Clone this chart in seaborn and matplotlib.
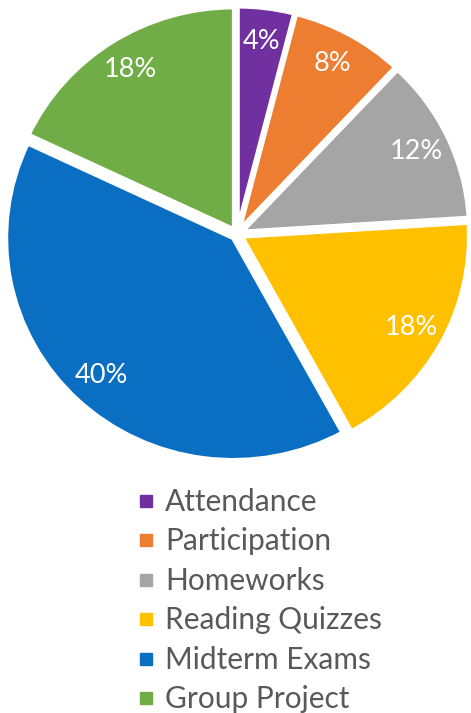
import matplotlib
matplotlib.use("Agg")
import matplotlib.pyplot as plt
import seaborn as sns
from matplotlib.lines import Line2D

categories = ["Attendance", "Participation", "Homeworks", "Reading Quizzes", "Midterm Exams", "Group Project"]
values = [4, 8, 12, 18, 40, 18]
colors_hex = ["#7030A0", "#ED7D31", "#A5A5A5", "#FFC000", "#0A6FC2", "#70AD47"]

sns.set_theme(style="white")
plt.rcParams["font.family"] = ["Lato", "DejaVu Sans"]
palette = sns.color_palette(colors_hex)

W, H = 471, 713
fig = plt.figure(figsize=(W / 100, H / 100), dpi=100)
fig.patch.set_facecolor("white")

# pixel scale of one pie radius (horizontal / vertical) and centre in pixels
Rx, Ry = 227.0, 222.0
cx, cy = 237.0, 234.0
top_px = 475.0
ax = fig.add_axes([0, (H - top_px) / H, 1, top_px / H])
wedges, texts, autotexts = ax.pie(
    values,
    colors=palette,
    startangle=90,
    counterclock=False,
    explode=[0.025] * len(values),
    autopct=lambda p: f"{p:.0f}%",
    pctdistance=0.85,
    wedgeprops=dict(edgecolor="white", linewidth=3),
    textprops=dict(color="white", fontsize=19.5),
)
ax.set_xlim(-cx / Rx, (W - cx) / Rx)
ax.set_ylim(-(top_px - cy) / Ry, cy / Ry)
ax.set_aspect("auto")
ax.axis("off")

handles = [Line2D([], [], marker="s", linestyle="none", markersize=9,
                  markerfacecolor=c, markeredgecolor=c) for c in palette]
leg = fig.legend(handles, categories, loc="upper left",
                 bbox_to_anchor=(134 / W, 1 - 488 / H),
                 frameon=False, fontsize=21.5, labelcolor="#595959",
                 handlelength=0.8, handletextpad=0.23, labelspacing=0.385,
                 borderpad=0, borderaxespad=0)

fig.savefig("out.png", dpi=100, facecolor="white")
